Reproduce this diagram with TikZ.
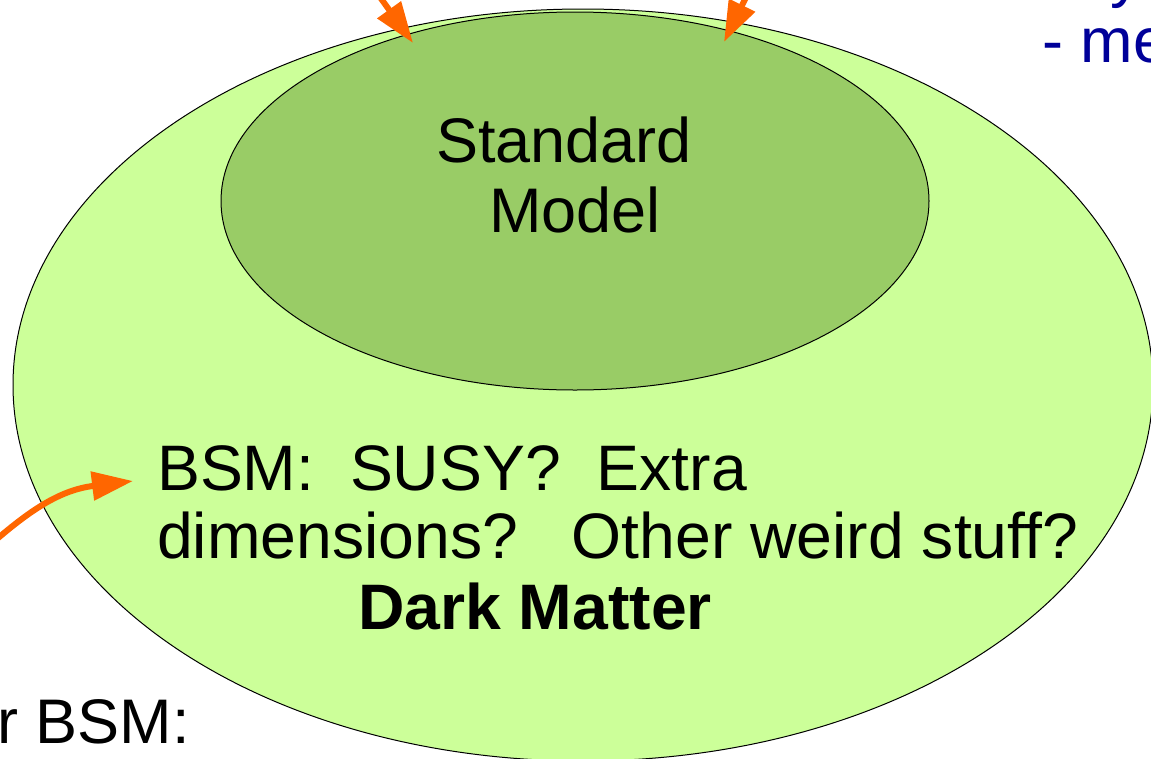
\documentclass[tikz,border=0pt]{standalone}
\usepackage{fontspec}
\setmainfont{Liberation Sans}
\usetikzlibrary{arrows.meta,shapes.geometric}
\definecolor{outergreen}{HTML}{CCFF99}
\definecolor{innergreen}{HTML}{99CC66}
\definecolor{arroworange}{HTML}{FF6600}
\definecolor{navyblue}{HTML}{000099}
\tikzset{
  blob/.style={ellipse, draw=black, line width=1pt, inner sep=0pt},
  lbl/.style={font=\fontsize{63}{70}\selectfont, inner sep=0pt, text=black},
  biglbl/.style={font=\fontsize{64.3}{70}\selectfont, inner sep=0pt, text=black},
  orangearrow/.style={draw=arroworange, line width=6pt,
    -{Triangle[length=41pt,width=28pt]}}
}
\begin{document}
\begin{tikzpicture}[x=1pt,y=-1pt]
\useasboundingbox (0,0) rectangle (1151,758);
\clip (0,0) rectangle (1151,758);
% ellipses
\node[blob, fill=outergreen, minimum width=1140pt, minimum height=752pt] (bsm) at (583,385) {};
\node[blob, fill=innergreen, minimum width=708pt, minimum height=378pt] (sm) at (575,201) {};
% texts
\node[lbl, anchor=base] (std) at (564,162) {Standard};
\node[lbl, anchor=base] (model) at (575,232) {Model};
\node[biglbl, anchor=base west] (l1) at (157,490) {BSM:~~SUSY?~~Extra};
\node[biglbl, anchor=base west] (l2) at (157,558) {dimensions?~~~Other weird stuff?};
\node[biglbl, anchor=base west, font=\fontsize{64.3}{70}\selectfont\bfseries] (l3) at (358,629) {Dark Matter};
\node[lbl, anchor=base west] (rbsm) at (-3,743) {r BSM:};
\node[lbl, anchor=base west, text=navyblue] (me) at (1042,62) {- me};
\node[lbl, anchor=base west, text=navyblue] (yy) at (1110,-5) {y};
% arrows
\coordinate (t1) at (372,-14);
\coordinate (h1) at (413,43);
\coordinate (t2) at (755,-21);
\coordinate (h2) at (724,42);
\coordinate (t3) at (-10,545);
\coordinate (h3) at (133,481);
\draw[orangearrow] (t1) -- (h1);
\draw[orangearrow] (t2) -- (h2);
\draw[orangearrow] (t3) .. controls (30,510) and (60,490) .. (h3);
\end{tikzpicture}
\end{document}
